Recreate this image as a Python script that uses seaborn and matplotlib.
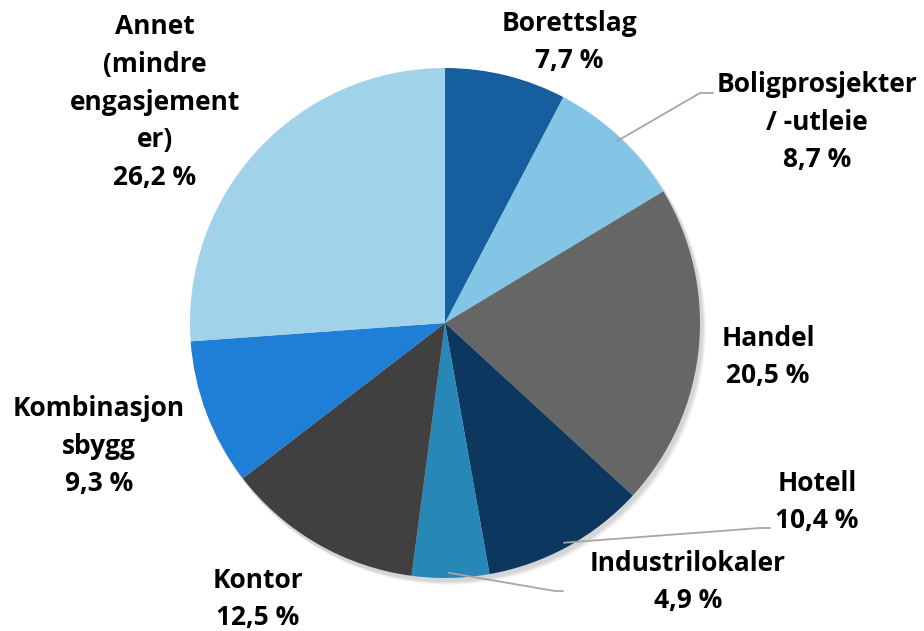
import matplotlib
matplotlib.use("Agg")
import matplotlib.pyplot as plt
import seaborn as sns
import numpy as np

categories = ["Borettslag", "Boligprosjekter / -utleie", "Handel", "Hotell",
              "Industrilokaler", "Kontor", "Kombinasjonsbygg",
              "Annet (mindre engasjementer)"]
values = [7.7, 8.7, 20.5, 10.4, 4.9, 12.5, 9.3, 26.2]
label_texts = ["Borettslag", "Boligprosjekter\n/ -utleie", "Handel", "Hotell",
               "Industrilokaler", "Kontor", "Kombinasjon\nsbygg",
               "Annet\n(mindre\nengasjement\ner)"]
pct_texts = ["7,7 %", "8,7 %", "20,5 %", "10,4 %", "4,9 %", "12,5 %", "9,3 %", "26,2 %"]
colors = ["#155f9f", "#83c5e5", "#666666", "#0c375f",
          "#2787b6", "#404040", "#1f7fd6", "#a0d2ea"]

sns.set_theme(style="white")
plt.rcParams['font.family'] = ['Open Sans', 'DejaVu Sans']

W, H = 924, 631
fig = plt.figure(figsize=(W / 100, H / 100), dpi=100)
ax = fig.add_axes([0, 0, 1, 1])

cx, cy, R = 445, H - 323, 255

# soft shadow
for i, a in enumerate([0.05, 0.05, 0.04, 0.03]):
    ax.add_patch(plt.Circle((cx + 2 + i, cy - 3 - i), R + 1, color="black",
                            alpha=a, lw=0, zorder=0))

wedges, _ = ax.pie(values, colors=colors, startangle=90, counterclock=False,
                   center=(cx, cy), radius=R, frame=True,
                   wedgeprops=dict(linewidth=0))
ax.set_xlim(0, W)
ax.set_ylim(0, H)
ax.set_aspect("equal")
ax.axis("off")

# label positions (text centres, in pixels from top-left)
label_pos = [(569, 42), (817, 122), (768, 357), (817, 502),
             (688, 582), (258, 599), (99, 446), (155, 102)]
for lab, pct, (x, y) in zip(label_texts, pct_texts, label_pos):
    ax.text(x, H - y, lab + "\n" + pct, ha="center", va="center",
            fontsize=19, fontweight="bold", color="black",
            linespacing=1.5)

# leader lines for three labels
cum = np.cumsum([0] + values[:-1])
mids = 90 - (cum + np.array(values) / 2) * 3.6
leaders = {1: [(700, 93), (713, 93)], 3: [(760, 528), (770, 528)],
           4: [(555, 591), (563, 591)]}
for idx, pts in leaders.items():
    ang = np.deg2rad(mids[idx])
    r = R * 0.98
    xs = [cx + r * np.cos(ang)] + [p[0] for p in pts]
    ys = [cy + r * np.sin(ang)] + [H - p[1] for p in pts]
    ax.plot(xs, ys, color="#a6a6a6", lw=1.3, zorder=5)

fig.savefig("out.png", dpi=100)
